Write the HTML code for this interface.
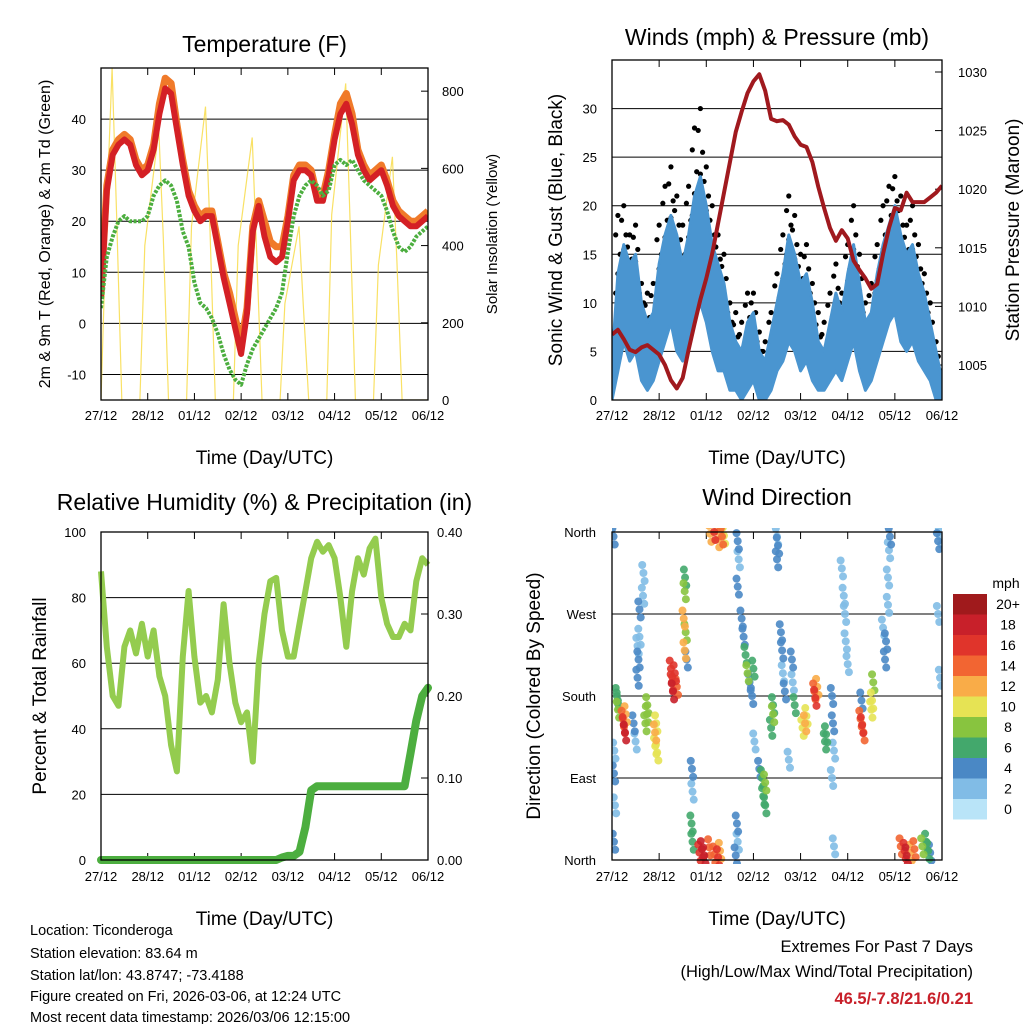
<!DOCTYPE html>
<html><head><meta charset="utf-8"><style>
html,body{margin:0;padding:0;background:#fff;}
svg{display:block;font-family:"Liberation Sans",sans-serif;}
</style></head><body>
<svg id="c" width="1024" height="1024" viewBox="0 0 1024 1024" xmlns="http://www.w3.org/2000/svg">
<g id="g1"></g>
<g id="g2"></g>
<g id="g3"></g>
<g id="g4"></g>
<g id="txt">
<text x="30" y="935" font-size="14.5">Location: Ticonderoga</text>
<text x="30" y="958" font-size="14.5">Station elevation: 83.64 m</text>
<text x="30" y="980" font-size="14.5">Station lat/lon: 43.8747; -73.4188</text>
<text x="30" y="1001" font-size="14.5">Figure created on Fri, 2026-03-06, at 12:24 UTC</text>
<text x="30" y="1022" font-size="14.5">Most recent data timestamp: 2026/03/06 12:15:00</text>
<text x="973" y="952" font-size="16.5" text-anchor="end">Extremes For Past 7 Days</text>
<text x="973" y="977" font-size="16.5" text-anchor="end">(High/Low/Max Wind/Total Precipitation)</text>
<text x="973" y="1004" font-size="16.5" font-weight="bold" fill="#c8202a" text-anchor="end">46.5/-7.8/21.6/0.21</text>
</g>
</svg>
<script>
const dayLabels=["27/12","28/12","01/12","02/12","03/12","04/12","05/12","06/12"];
const hours3=[0,3,6,9,12,15,18,21,24,27,30,33,36,39,42,45,48,51,54,57,60,63,66,69,72,75,78,81,84,87,90,93,96,99,102,105,108,111,114,117,120,123,126,129,132,135,138,141,144,147,150,153,156,159,162,165,168];
const tempRed=[5,26,33,35,36,35,31,29,30,34,41,46,45,38,31,25,22,20,21,21,15,9,4,-1,-6,2,18,23,17,13,12,13,20,28,30,30,29,24,24,29,36,41,43,39,33,30,28,29,30,27,23,21,20,19,19,20,21];
const tempOrange=[6,27,34,36,37,36,32,30,31,35,43,48,47,39,32,26,23,21,22,22,16,10,6,1,-4,3,19,24,20,16,15,15,21,29,31,31,30,25,25,30,37,43,45,41,34,31,29,30,31,28,24,22,21,20,20,21,22];
const dewGreen=[3,13,17,20,21,20,20,20,21,25,27,28,27,24,18,15,8,4,3,1,-2,-6,-9,-11,-12,-8,-5,-3,-1,1,3,6,14,21,25,27,28,27,25,26,31,32,31,32,30,28,27,26,25,22,18,15,14,15,17,18,19];
const solarHours=[0,3,5.7,8,10.7,20,22.5,29.7,32,34.7,44,46.5,53.7,56,58.7,68,70.5,77.7,80,82.7,92,94.5,101.7,104,106.7,116,118.5,125.7,128,130.7,140,142.5,149.7,152,154.7,164,168];
const solarVals=[0,500,860,480,0,0,400,700,420,0,0,450,760,440,0,0,400,680,380,0,0,250,450,240,0,0,480,820,460,0,0,350,630,360,0,0,0];
const windHigh=[4,13,16,14,15,10,8,9,14,17,19,17,14,17,21,23,20,16,14,12,8,6,5,8,9,5,4,7,10,13,17,15,12,13,10,6,5,8,11,9,13,16,12,8,9,13,16,18,20,17,15,16,13,11,8,5,2];
const windLow=[0,3,6,4,5,2,1,2,4,6,8,5,4,6,9,10,8,5,3,3,1,1,0,1,2,0,0,1,3,4,6,5,3,4,2,1,1,2,3,2,4,6,3,1,2,4,6,8,9,6,5,6,4,3,2,0,0];
const windGust=[7,19,20,17,18,12,11,12,18,22,24,21,18,22,28,30,24,20,17,15,10,9,8,11,11,7,6,9,13,17,21,19,15,16,12,9,8,11,14,11,16,20,15,10,12,16,20,22,23,21,18,20,16,13,10,6,3];
const pressure=[1007.6,1008.0,1007.2,1006.3,1006.1,1006.5,1006.7,1006.3,1005.9,1005.0,1003.7,1003.0,1003.9,1006.3,1008.5,1010.6,1012.4,1014.5,1017.1,1019.7,1022.3,1024.9,1026.6,1028.2,1029.2,1029.8,1028.4,1026.0,1025.8,1025.9,1025.5,1024.5,1023.8,1023.6,1022.3,1020.2,1018.4,1016.7,1015.6,1016.5,1015.8,1013.9,1013.1,1012.4,1011.5,1011.9,1014.5,1016.7,1018.4,1018.2,1019.7,1018.9,1018.9,1018.9,1019.3,1019.7,1020.3];
const rh=[88,65,50,47,65,70,63,72,62,70,56,50,35,27,62,82,62,48,50,45,55,78,60,48,42,45,30,60,75,85,86,70,62,62,72,82,92,97,94,96,92,80,65,82,92,87,95,98,80,72,68,68,72,70,85,92,90];
const precip=[0,0,0,0,0,0,0,0,0,0,0,0,0,0,0,0,0,0,0,0,0,0,0,0,0,0,0,0,0,0,0,0.003,0.005,0.005,0.01,0.04,0.085,0.09,0.09,0.09,0.09,0.09,0.09,0.09,0.09,0.09,0.09,0.09,0.09,0.09,0.09,0.09,0.09,0.13,0.17,0.2,0.21];
const dirHours=[6,6.6,5.5,7,3,3,2.5,1,1.5,1,1.2,0.8,11,12,13,13.5,13,14,15.8,16,14,17.8,18,17,21.9,22,22.5,23,30.5,31,32,30,33,37.2,37,36.5,37.5,37,38,40.7,41,40.5,41,45.8,44.5,47,49.5,52,54,55,50,52,56,57,54,63.6,64,63,64,64.5,64,66,67,68,69,70,71.3,72,72.5,76.4,77,78,75,78,82,82,81,84,84.5,84,86.6,87,88,86,91.6,92,93,90,98.3,99,97,103,103.5,104.5,108.4,109,112,112.5,113,112,113,118.6,118,119,120,117,127.3,126.5,128,127,132.4,133,132,139,139.5,138,140.5,140.5,141,141.5,149,147,150,152,154,158,160,161,162,166,167,166,167];
const dirDeg=[148,140,155,160,165,175,180,20,60,95,120,355,150,130,200,220,235,245,290,315,275,160,170,150,140,125,150,118,195,185,205,210,190,310,295,265,250,230,220,100,75,40,20,12,8,5,14,6,3,10,358,360,355,356,352,40,20,5,300,330,350,265,245,225,205,195,180,210,130,90,70,60,100,85,160,170,145,330,345,355,230,205,185,250,220,195,170,110,150,158,145,185,178,190,130,138,180,150,120,90,15,270,290,240,215,320,148,155,140,175,175,195,165,220,240,255,280,310,340,355,10,15,5,8,12,15,20,10,8,350,355,270,200];
const dirSpeed=[16,18,14,12,8,7,6,4,3,4,3,4,4,3,4,4,3,2,3,2,4,8,9,8,12,10,11,10,17,19,16,17,15,6,8,13,9,12,4,4,3,6,7,19,16,18,14,15,17,13,13,16,14,10,12,4,3,5,4,3,4,4,4,6,8,4,4,6,2,7,6,6,4,8,8,7,6,4,4,3,4,2,4,4,4,2,6,3,12,10,11,14,16,12,7,6,4,4,3,3,3,3,3,2,3,2,17,14,15,4,10,8,10,4,4,3,3,2,3,4,16,14,18,12,14,8,6,6,5,4,3,2,2];
const speedLabels=["20+","18","16","14","12","10","8","6","4","2","0"];
const speedColors=["#a01a1c","#c8202a","#e0342b","#f26532","#f9ac48","#e6e354","#88c43f","#43a86c","#4a88c5","#81bce6","#b9e4f8"];

const NS="http://www.w3.org/2000/svg";
function mk(parent,tag,attrs,text){const e=document.createElementNS(NS,tag);for(const k in attrs)e.setAttribute(k,attrs[k]);if(text!==undefined)e.textContent=text;parent.appendChild(e);return e;}
function lin(d0,d1,r0,r1){return v=>r0+(v-d0)*(r1-r0)/(d1-d0);}

function frame(g,L,T,R,B,xLabelY,titleTxt,titleY,titleName){
  const xs=lin(0,168,L,R);
  dayLabels.forEach((lb,i)=>{
    const x=xs(i*24);
    const t1=mk(g,'line',{x1:x,y1:T,x2:x,y2:T+7,stroke:'#000','stroke-width':1});
    
    
    const t2=mk(g,'line',{x1:x,y1:B,x2:x,y2:B-7,stroke:'#000','stroke-width':1});
    
    
    const t=mk(g,'text',{x:x,y:xLabelY,'font-size':13,'text-anchor':'middle'},lb);
    
    
  });
  const at=mk(g,'text',{x:(L+R)/2,y:xLabelY+44,'font-size':19,'text-anchor':'middle'},'Time (Day/UTC)');
  
  
  const tt=mk(g,'text',{x:(L+R)/2,y:titleY,'font-size':23,'text-anchor':'middle'},titleTxt);
  
  
  return xs;
}
function border(g,L,T,R,B){
  const r=mk(g,'rect',{x:L,y:T,width:R-L,height:B-T,fill:'none',stroke:'#000','stroke-width':1.3});
  
  
}
function grid(g,L,R,y){
  const l=mk(g,'line',{x1:L,y1:y,x2:R,y2:y,stroke:'#000','stroke-width':1});
  
  
}
function ylab(g,x,y,txt,anchor,name){
  const t=mk(g,'text',{x:x,y:y+5,'font-size':13,'text-anchor':anchor},txt);
  
  
}
function ytitle(g,x,y,txt,size,name){
  const t=mk(g,'text',{x:0,y:0,'font-size':size,'text-anchor':'middle',transform:`translate(${x},${y}) rotate(-90)`},txt);
  
  
}
function path(g,xs,ys,xv,yv,attrs,name){
  let d='';xv.forEach((h,i)=>{d+=(i?'L':'M')+xs(h).toFixed(1)+','+ys(yv[i]).toFixed(1);});
  const p=mk(g,'path',Object.assign({d:d,fill:'none'},attrs));
  
  
  return p;
}

// Panel 1 temperature
(function(){
  const g=document.getElementById('g1');const L=101,T=68,R=428,B=400;
  const xs=frame(g,L,T,R,B,420,'Temperature (F)',52,'temperature-title');
  const ys=lin(-15,50,B,T);const ys2=lin(0,860,B,T);
  [-10,0,10,20,30,40].forEach(v=>{grid(g,L,R,ys(v));ylab(g,86,ys(v),String(v),'end','left-tick-label');});
  [0,200,400,600,800].forEach(v=>{
    const l=mk(g,'line',{x1:R,y1:ys2(v),x2:R-7,y2:ys2(v),stroke:'#000'});
    
    
    ylab(g,442,ys2(v),String(v),'start','right-tick-label');});
  const cg=mk(g,'g',{'clip-path':'url(#cp1)'});
  const cp=mk(document.getElementById('c'),'clipPath',{id:'cp1'});mk(cp,'rect',{x:L,y:T,width:R-L,height:B-T});
  path(cg,xs,ys2,solarHours,solarVals,{stroke:'#f8dc4a','stroke-width':1.2,opacity:0.85},'solar-insolation-line');
  path(cg,xs,ys,hours3,tempOrange,{stroke:'#f07a2a','stroke-width':7,'stroke-linejoin':'round'},'temp-9m-line');
  path(cg,xs,ys,hours3,tempRed,{stroke:'#d42025','stroke-width':6,'stroke-linejoin':'round'},'temp-2m-line');
  path(cg,xs,ys,hours3,dewGreen,{stroke:'#4cae3f','stroke-width':4,'stroke-dasharray':'3 1.5','stroke-linejoin':'round'},'dewpoint-line');
  border(g,L,T,R,B);
  ytitle(g,50,234,'2m & 9m T (Red, Orange) & 2m Td (Green)',16,'left-axis-title');
  ytitle(g,497,234,'Solar Insolation (Yellow)',15,'right-axis-title');
})();

// Panel 2 winds
(function(){
  const g=document.getElementById('g2');const L=612,T=60,R=942,B=400;
  const xs=frame(g,L,T,R,B,420,'Winds (mph) & Pressure (mb)',45,'winds-title');
  const ys=lin(0,35,B,T);const yp=lin(1005,1030,365,72);
  [0,5,10,15,20,25,30].forEach(v=>{grid(g,L,R,ys(v));ylab(g,597,ys(v),String(v),'end','left-tick-label');});
  [1005,1010,1015,1020,1025,1030].forEach(v=>{
    const l=mk(g,'line',{x1:R,y1:yp(v),x2:R-7,y2:yp(v),stroke:'#000'});
    
    
    ylab(g,958,yp(v),String(v),'start','right-tick-label');});
  const cp=mk(document.getElementById('c'),'clipPath',{id:'cp2'});mk(cp,'rect',{x:L,y:T,width:R-L,height:B-T});
  const cg=mk(g,'g',{'clip-path':'url(#cp2)'});
  hours3.forEach((h,i)=>{
    for(let k=0;k<5;k++){
      const v=windHigh[i]-2+(windGust[i]-windHigh[i]+2)*k/4;
      const c=mk(cg,'circle',{cx:xs(h)+(k%3-1)*2.2,cy:ys(v),r:2.6,fill:'#000'});
      
      
    }
  });
  let d='';hours3.forEach((h,i)=>{d+=(i?'L':'M')+xs(h).toFixed(1)+','+ys(windHigh[i]).toFixed(1);});
  for(let i=hours3.length-1;i>=0;i--){d+='L'+xs(hours3[i]).toFixed(1)+','+ys(windLow[i]).toFixed(1);}
  const band=mk(cg,'path',{d:d+'Z',fill:'#4a95d0',stroke:'#4a95d0','stroke-width':3,'stroke-linejoin':'round'});
  
  
  path(cg,xs,yp,hours3,pressure,{stroke:'#a0191e','stroke-width':4,'stroke-linejoin':'round'},'pressure-line');
  border(g,L,T,R,B);
  ytitle(g,562,230,'Sonic Wind & Gust (Blue, Black)',19,'left-axis-title');
  ytitle(g,1019,230,'Station Pressure (Maroon)',19,'right-axis-title');
})();

// Panel 3 RH
(function(){
  const g=document.getElementById('g3');const L=101,T=532,R=428,B=860;
  const xs=frame(g,L,T,R,B,881,'Relative Humidity (%) & Precipitation (in)',510,'humidity-title');
  const ys=lin(0,100,B,T);const yp=lin(0,0.4,B,T);
  [0,20,40,60,80,100].forEach(v=>{grid(g,L,R,ys(v));ylab(g,86,ys(v),String(v),'end','left-tick-label');});
  [0,0.1,0.2,0.3,0.4].forEach(v=>{
    const l=mk(g,'line',{x1:R,y1:yp(v),x2:R-7,y2:yp(v),stroke:'#000'});
    
    
    ylab(g,437,yp(v),v.toFixed(2),'start','right-tick-label');});
  path(g,xs,ys,hours3,rh,{stroke:'#94cc4f','stroke-width':6,'stroke-linejoin':'round'},'humidity-line');
  path(g,xs,yp,hours3,precip,{stroke:'#4cae3f','stroke-width':8,'stroke-linejoin':'round','stroke-linecap':'round'},'precipitation-line');
  border(g,L,T,R,B);
  ytitle(g,46,696,'Percent & Total Rainfall',19,'left-axis-title');
})();

// Panel 4 wind direction
(function(){
  const g=document.getElementById('g4');const L=612,T=532,R=942,B=860;
  const xs=frame(g,L,T,R,B,881,'Wind Direction',505,'wind-direction-title');
  const ys=lin(0,360,B,T);
  [[0,'North'],[90,'East'],[180,'South'],[270,'West'],[360,'North']].forEach(p=>{grid(g,L,R,ys(p[0]));ylab(g,596,ys(p[0]),p[1],'end','direction-tick-label');});
  const cp=mk(document.getElementById('c'),'clipPath',{id:'cp4'});mk(cp,'rect',{x:L,y:T-4,width:R-L,height:B-T+8});
  const cg=mk(g,'g',{'clip-path':'url(#cp4)'});
  const order=dirHours.map((h,i)=>i).sort((a,b)=>dirSpeed[a]-dirSpeed[b]);
  order.forEach(i=>{
    const idx=10-Math.min(10,Math.floor(dirSpeed[i]/2));
    [-8,0,8].forEach((off,k)=>{
      const c=mk(cg,'circle',{cx:xs(dirHours[i])+(k-1)*1.2,cy:ys(dirDeg[i])+off,r:4,fill:speedColors[idx],opacity:0.9});
      
      
    });
  });
  border(g,L,T,R,B);
  ytitle(g,540,696,'Direction (Colored By Speed)',19,'left-axis-title');
  const cb=mk(g,'g',{});
  
  
  const un=mk(cb,'text',{x:1006,y:588,'font-size':14,'text-anchor':'middle'},'mph');
  
  
  speedLabels.forEach((lb,i)=>{
    const y=594+i*20.5;
    const r=mk(cb,'rect',{x:953,y:y,width:34,height:20.5,fill:speedColors[i]});
    
    
    const t=mk(cb,'text',{x:1008,y:y+15,'font-size':14,'text-anchor':'middle'},lb);
    
    
  });
})();
</script>
</body></html>
